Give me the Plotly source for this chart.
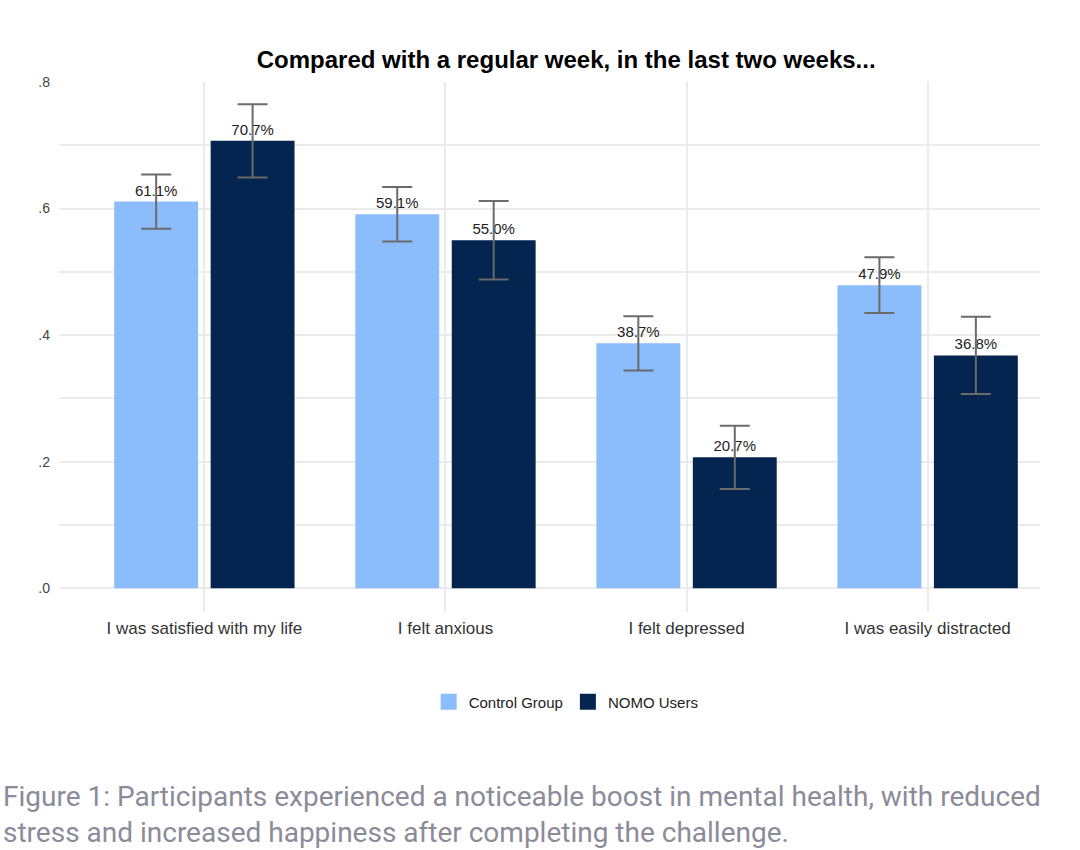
"""Mental health survey: control group vs NOMO users"""
import plotly.graph_objects as go

categories = ["I was satisfied with my life", "I felt anxious", "I felt depressed", "I was easily distracted"]
control = [0.611, 0.591, 0.387, 0.479]
control_err = [0.043, 0.043, 0.043, 0.044]
nomo = [0.707, 0.550, 0.207, 0.368]
nomo_err = [0.058, 0.062, 0.050, 0.061]
y_ticks = [0.0, 0.2, 0.4, 0.6, 0.8]
y_tick_labels = [".0", ".2", ".4", ".6", ".8"]

TITLE = "Compared with a regular week, in the last two weeks..."
CAPTION = (
    "Figure 1: Participants experienced a noticeable boost in mental health, with reduced<br>"
    "stress and increased happiness after completing the challenge."
)

LIGHT = "#8bbdfc"
DARK = "#03254f"
ERR = "#6b6b6b"
GRID = "#ebebeb"

W, H = 1080, 850
PLOT_L, PLOT_T = 59, 82
PLOT_W, PLOT_H = 981, 530


def bar(name, values, errors, color):
    return go.Bar(
        x=categories,
        y=values,
        name=name,
        marker=dict(color=color, line=dict(width=0)),
        error_y=dict(type="data", array=errors, color=ERR, thickness=2, width=15),
        texttemplate="%{y:.1%}",
        textposition="outside",
        textfont=dict(size=15, color="#222222"),
        cliponaxis=False,
        showlegend=False,
    )


def legend_swatch(name, color):
    # bar legend symbols are tiny, so use a big square marker for the legend only
    return go.Scatter(
        x=[None],
        y=[None],
        mode="markers",
        name=name,
        marker=dict(symbol="square", size=28, color=color),
    )


fig = go.Figure()
fig.add_trace(bar("Control Group", control, control_err, LIGHT))
fig.add_trace(bar("NOMO Users", nomo, nomo_err, DARK))
fig.add_trace(legend_swatch("Control Group", LIGHT))
fig.add_trace(legend_swatch("NOMO Users", DARK))

fig.update_layout(
    width=W,
    height=H,
    margin=dict(l=PLOT_L, r=W - PLOT_L - PLOT_W, t=PLOT_T, b=H - PLOT_T - PLOT_H),
    paper_bgcolor="white",
    plot_bgcolor="white",
    font=dict(family="Liberation Sans, Arial, sans-serif", color="#333333"),
    barmode="group",
    bargap=0.2,
    bargroupgap=0.13,
    title=dict(
        text=f"<b>{TITLE}</b>",
        font=dict(size=24, color="#000000"),
        xref="paper",
        x=0.517,
        xanchor="center",
        yref="container",
        y=1 - 60 / H,
        yanchor="middle",
    ),
    legend=dict(
        orientation="h",
        xref="paper",
        x=0.517,
        xanchor="center",
        yref="container",
        y=1 - 702 / H,
        yanchor="middle",
        font=dict(size=15, color="#222222"),
        traceorder="normal",
        itemsizing="trace",
    ),
)

fig.update_xaxes(
    range=[-0.603, 3.466],
    showgrid=True,
    gridcolor=GRID,
    gridwidth=2,
    showline=False,
    ticks="",
    tickfont=dict(size=17, color="#333333"),
    ticklabelstandoff=4,
)
fig.update_yaxes(
    range=[-0.0375, 0.8],
    tickvals=y_ticks,
    ticktext=y_tick_labels,
    showgrid=True,
    gridcolor=GRID,
    gridwidth=2,
    zeroline=False,
    showline=False,
    ticks="",
    tickfont=dict(size=14, color="#444444"),
    ticklabelstandoff=8,
    minor=dict(dtick=0.1, tick0=0, showgrid=True, gridcolor=GRID, gridwidth=1.5),
)

fig.add_annotation(
    text=CAPTION,
    xref="paper",
    yref="paper",
    x=-(PLOT_L - 1) / PLOT_W,
    y=(PLOT_T + PLOT_H - 814) / PLOT_H,
    xanchor="left",
    yanchor="middle",
    align="left",
    showarrow=False,
    font=dict(family="Roboto, sans-serif", size=28, color="#8b8b99"),
)

# drop the browser's default 8px body margin so the figure sits at the page corner
fig.write_html(
    "out.html",
    config={"displayModeBar": False},
    post_script="document.body.style.margin = '0';",
)
